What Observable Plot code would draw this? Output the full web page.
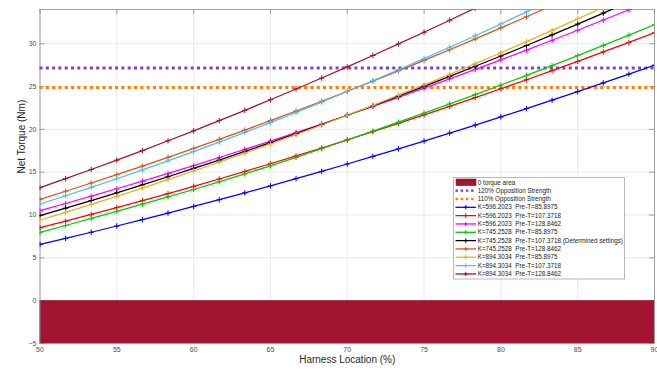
<!DOCTYPE html>
<html><head><meta charset="utf-8">
<script src="https://cdn.jsdelivr.net/npm/d3@7"></script>
<script src="https://cdn.jsdelivr.net/npm/@observablehq/plot@0.6"></script>
<style>
  html,body{margin:0;padding:0;background:#fff}
  #chart svg{display:block}
  .legend text{white-space:pre}
</style>
</head><body><div id="chart"></div>
<script>
// ---------- data ----------
const harnessX = [50, 51.667, 53.333, 55, 56.667, 58.333, 60, 61.667, 63.333, 65, 66.667, 68.333, 70,
                  71.667, 73.333, 75, 76.667, 78.333, 80, 81.667, 83.333, 85, 86.667, 88.333, 90];

const torqueK596_T86  = [6.58,7.28,7.99,8.72,9.47,10.23,11.00,11.79,12.59,13.41,14.25,15.10,15.96,16.84,17.73,18.64,19.57,20.51,21.46,22.43,23.41,24.41,25.43,26.46,27.50];
const torqueK596_T107 = [8.52,9.28,10.07,10.87,11.68,12.51,13.35,14.21,15.09,15.99,16.90,17.83,18.77,19.73,20.70,21.69,22.69,23.72,24.75,25.80,26.87,27.95,29.05,30.16,31.29];
const torqueK596_T129 = [10.51,11.35,12.20,13.07,13.96,14.86,15.78,16.72,17.67,18.64,19.63,20.63,21.65,22.69,23.74,24.81,25.90,27.00,28.12,29.26,30.41,31.58,32.77,33.97,35.19];
const torqueK745_T86  = [7.98,8.78,9.60,10.43,11.27,12.12,12.98,13.88,14.80,15.75,16.73,17.74,18.76,19.79,20.84,21.90,22.98,24.07,25.18,26.31,27.45,28.62,29.81,31.01,32.23];
const torqueK745_T107 = [9.93,10.80,11.69,12.59,13.52,14.47,15.44,16.42,17.43,18.45,19.50,20.57,21.65,22.75,23.88,25.02,26.19,27.37,28.57,29.80,31.04,32.30,33.58,34.88];
const torqueK745_T129 = [11.84,12.78,13.74,14.72,15.72,16.74,17.78,18.84,19.92,21.02,22.15,23.29,24.45,25.63,26.84,28.06,29.30,30.57,31.85,33.15,34.48];
const torqueK894_T86  = [9.42,10.32,11.24,12.18,13.15,14.13,15.14,16.17,17.22,18.30,19.39,20.51,21.65,22.81,24.00,25.20,26.43,27.68,28.95,30.25,31.56,32.90,34.26];
const torqueK894_T107 = [11.29,12.25,13.23,14.24,15.27,16.33,17.41,18.52,19.65,20.80,21.98,23.19,24.42,25.68,26.96,28.26,29.59,30.94,32.32,33.72,35.15];
const torqueK894_T129 = [13.20,14.25,15.32,16.41,17.53,18.67,19.83,21.02,22.23,23.46,24.72,26.00,27.30,28.63,29.98,31.35,32.75,34.17];

const seriesLabels = [
  "K=596.2023  Pre-T=85.8975",
  "K=596.2023  Pre-T=107.3718",
  "K=596.2023  Pre-T=128.8462",
  "K=745.2528  Pre-T=85.8975",
  "K=745.2528  Pre-T=107.3718 (Determined settings)",
  "K=745.2528  Pre-T=128.8462",
  "K=894.3034  Pre-T=85.8975",
  "K=894.3034  Pre-T=107.3718",
  "K=894.3034  Pre-T=128.8462"
];
const seriesValues = [torqueK596_T86, torqueK596_T107, torqueK596_T129,
                      torqueK745_T86, torqueK745_T107, torqueK745_T129,
                      torqueK894_T86, torqueK894_T107, torqueK894_T129];
const seriesColors = ["#0000ff","#ff0000","#ff00ff","#00cc00","#000000","#d95319","#edb120","#4dbeee","#a2142f"];

const oppositionLabels = ["120% Opposition Strength", "110% Opposition Strength"];
const oppositionValues = [27.17, 24.9];
const oppositionColors = ["#7e3fcc", "#ff8000"];

const zeroAreaLabel = "0 torque area";
const zeroAreaX = [50, 90];
const zeroAreaY = [-5, 0];
const zeroAreaColor = "#a2142f";

const xTicks = [50, 55, 60, 65, 70, 75, 80, 85, 90];
const yTicks = [-5, 0, 5, 10, 15, 20, 25, 30];
const xTitle = "Harness Location (%)";
const yTitle = "Net Torque (Nm)";

// ---------- build table ----------
const rows = [];
seriesValues.forEach((vals, s) => vals.forEach((v, i) => rows.push({x: harnessX[i], y: v, s})));
const zeroArea = [{x1: zeroAreaX[0], x2: zeroAreaX[1], y1: zeroAreaY[0], y2: zeroAreaY[1]}];

const W = 657, H = 371, mL = 39.5, mR = 3, mT = 9, mB = 28;
const frameW = W - mL - mR, frameH = H - mT - mB, tickLen = 5;
const font = "'Liberation Sans', Arial, Helvetica, sans-serif";

const chart = Plot.plot({
  width: W, height: H,
  marginLeft: mL, marginRight: mR, marginTop: mT, marginBottom: mB,
  style: {fontFamily: font, fontSize: "7px", color: "#4d4d4d", background: "#fff", overflow: "visible"},
  x: {domain: [50, 90]},
  y: {domain: [-5, 34]},
  marks: [
    Plot.gridX(xTicks, {stroke: "#e4e4e4", strokeOpacity: 1, strokeWidth: 0.8}),
    Plot.gridY(yTicks, {stroke: "#e4e4e4", strokeOpacity: 1, strokeWidth: 0.8}),
    Plot.tickX(xTicks, {x: d => d, stroke: "#8c8c8c", strokeWidth: 0.8, insetBottom: frameH - tickLen}),
    Plot.tickY(yTicks, {y: d => d, stroke: "#8c8c8c", strokeWidth: 0.8, insetRight: frameW - tickLen}),
    Plot.tickY(yTicks, {y: d => d, stroke: "#8c8c8c", strokeWidth: 0.8, insetLeft: frameW - tickLen}),
    Plot.rect(zeroArea, {x1: "x1", x2: "x2", y1: "y1", y2: "y2", fill: zeroAreaColor}),
    Plot.frame({stroke: "#8c8c8c", strokeWidth: 0.8}),
    Plot.ruleY(oppositionValues, {y: d => d, stroke: (d, i) => oppositionColors[i], strokeWidth: 3, strokeDasharray: "3,3.3"}),
    ...seriesValues.map((_, s) => Plot.line(rows.filter(r => r.s === s), {
      x: "x", y: "y", stroke: seriesColors[s], strokeWidth: 1.25, clip: true
    })),
    ...seriesValues.map((_, s) => Plot.dot(rows.filter(r => r.s === s), {
      x: "x", y: "y", stroke: seriesColors[s], symbol: "plus", r: 1.9, strokeWidth: 1, clip: true
    })),
    Plot.axisX(xTicks, {tickSize: 0, tickPadding: 4, fill: "#4d4d4d", fontSize: 7, label: null}),
    Plot.axisY(yTicks, {tickSize: 0, tickPadding: 3.5, fill: "#4d4d4d", fontSize: 7, label: null}),
    Plot.text([xTitle], {frameAnchor: "bottom", dy: 19, text: d => d, fontSize: 10, fill: "#262626", fontFamily: font}),
    Plot.text([yTitle], {frameAnchor: "left", dx: -18, dy: -3, rotate: -90, text: d => d, fontSize: 10, fill: "#262626", fontFamily: font})
  ]
});
document.getElementById("chart").appendChild(chart);

// ---------- legend (inside the plot area, as in the reference) ----------
const svg = d3.select(chart);
const lg = svg.append("g").attr("class", "legend").attr("font-family", font).attr("font-size", 6.3)
  .attr("text-anchor", "start");
const lx = 453.5, ly = 177.5, lw = 171, lh = 101.5, row0 = 182.3, rowH = 8.33;
const sx0 = 455.5, sx1 = 476, tx = 477.7;
lg.append("rect").attr("x", lx).attr("y", ly).attr("width", lw).attr("height", lh)
  .attr("fill", "#fff").attr("stroke", "#a6a6a6").attr("stroke-width", 0.8);
const legendItems = [
  {type: "patch", label: zeroAreaLabel, color: zeroAreaColor},
  ...oppositionLabels.map((l, i) => ({type: "dots", label: l, color: oppositionColors[i]})),
  ...seriesLabels.map((l, i) => ({type: "line", label: l, color: seriesColors[i]}))
];
legendItems.forEach((it, i) => {
  const cy = row0 + i * rowH;
  if (it.type === "patch") {
    lg.append("rect").attr("x", sx0 + 0.5).attr("y", cy - 3.3).attr("width", sx1 - sx0 - 0.5).attr("height", 6.6)
      .attr("fill", it.color).attr("stroke", "#6d0d1f").attr("stroke-width", 0.5);
  } else if (it.type === "dots") {
    for (let k = 0; k < 4; k++) {
      lg.append("rect").attr("x", sx0 + k * 5.2).attr("y", cy - 1.2).attr("width", 2.4).attr("height", 2.4).attr("fill", it.color);
    }
  } else {
    lg.append("line").attr("x1", sx0).attr("x2", sx1).attr("y1", cy).attr("y2", cy)
      .attr("stroke", it.color).attr("stroke-width", 1.3);
    const mx = (sx0 + sx1) / 2;
    lg.append("path").attr("d", `M${mx - 2.2},${cy}H${mx + 2.2}M${mx},${cy - 2.2}V${cy + 2.2}`)
      .attr("stroke", it.color).attr("stroke-width", 1);
  }
  lg.append("text").attr("x", tx).attr("y", cy).attr("dy", "0.35em").attr("fill", "#1a1a1a")
    .attr("text-anchor", "start").attr("xml:space", "preserve").style("white-space", "pre").text(it.label);
});
</script>
</body></html>
